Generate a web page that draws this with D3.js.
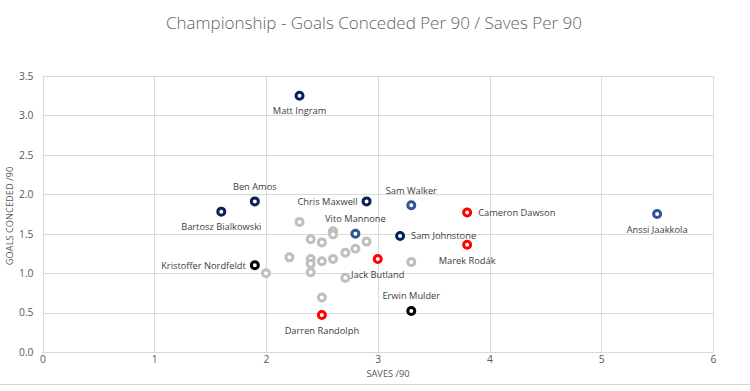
<!DOCTYPE html>
<html>
<head>
<meta charset="utf-8">
<script src="https://cdn.jsdelivr.net/npm/d3@7"></script>
<style>
  html, body { margin: 0; padding: 0; background: #fff; }
  svg { display: block; font-family: "Open Sans", "Noto Sans", sans-serif; }
</style>
</head>
<body>
<svg id="chart" width="750" height="391"></svg>
<script>
// ---- data ----
const namedPlayers = ["Matt Ingram", "Ben Amos", "Bartosz Bialkowski", "Kristoffer Nordfeldt", "Chris Maxwell",
  "Sam Walker", "Vito Mannone", "Cameron Dawson", "Sam Johnstone", "Marek Rodák", "Anssi Jaakkola",
  "Jack Butland", "Erwin Mulder", "Darren Randolph"];
const namedSaves    = [2.30, 1.90, 1.60, 1.90, 2.90, 3.30, 2.80, 3.80, 3.20, 3.80, 5.50, 3.00, 3.30, 2.50];
const namedConceded = [3.25, 1.91, 1.78, 1.10, 1.91, 1.86, 1.50, 1.77, 1.47, 1.36, 1.75, 1.18, 0.52, 0.47];
const namedGroup    = ["navy", "navy", "navy", "black", "navy", "blue", "blue", "red", "navy", "red", "blue", "red", "black", "red"];
const labelSide     = ["below", "above", "below", "left", "left", "above", "above", "right", "right", "below", "below", "below", "above", "below"];

const otherSaves    = [2.30, 2.40, 2.50, 2.60, 2.60, 2.90, 2.80, 2.71, 2.60, 2.50, 2.40, 2.40, 2.21, 2.00, 2.40, 2.71, 3.30, 2.50];
const otherConceded = [1.65, 1.43, 1.39, 1.53, 1.49, 1.40, 1.31, 1.26, 1.18, 1.15, 1.18, 1.12, 1.20, 1.00, 1.01, 0.94, 1.14, 0.69];

const xTicks = [0, 1, 2, 3, 4, 5, 6];
const yTicks = [0, 0.5, 1, 1.5, 2, 2.5, 3, 3.5];

const colors = { navy: "#0B2257", blue: "#2F5597", red: "#FF0000", black: "#000000", grey: "#BFBFBF" };

// ---- layout ----
const svg = d3.select("#chart");
const pLeft = 42.5, pRight = 713, pTop = 76, pBottom = 352;
const x = d3.scaleLinear().domain([0, 6]).range([pLeft, pRight]);
const y = d3.scaleLinear().domain([0, 3.5]).range([pBottom, pTop]);

// title
svg.append("text").attr("x", 374).attr("y", 29).attr("text-anchor", "middle")
  .attr("font-size", 17).attr("fill", "#636363").attr("font-weight", 300)
  .text("Championship - Goals Conceded Per 90 / Saves Per 90");

// gridlines
const grid = svg.append("g");
grid.selectAll("line.h").data(yTicks).join("line")
  .attr("x1", pLeft).attr("x2", pRight)
  .attr("y1", d => Math.round(y(d)) + 0.5).attr("y2", d => Math.round(y(d)) + 0.5)
  .attr("stroke", "#D9D9D9").attr("stroke-width", 1);
grid.selectAll("line.v").data(xTicks).join("line")
  .attr("y1", pTop).attr("y2", pBottom)
  .attr("x1", d => Math.round(x(d)) + 0.5).attr("x2", d => Math.round(x(d)) + 0.5)
  .attr("stroke", "#D9D9D9").attr("stroke-width", 1);

// axes (labels only, via d3 axes)
const xAxis = svg.append("g").attr("transform", `translate(0,${pBottom})`)
  .call(d3.axisBottom(x).tickValues(xTicks).tickFormat(d3.format("d")).tickSize(0).tickPadding(4));
const yAxis = svg.append("g").attr("transform", `translate(${pLeft},0)`)
  .call(d3.axisLeft(y).tickValues(yTicks).tickFormat(d3.format(".1f")).tickSize(0).tickPadding(9));
[xAxis, yAxis].forEach(a => {
  a.select(".domain").remove();
  a.selectAll("text").attr("font-size", 10.3).attr("fill", "#595959").attr("font-family", "Open Sans, sans-serif");
});

// axis titles
svg.append("text").attr("x", 388).attr("y", 377).attr("text-anchor", "middle")
  .attr("font-size", 9.3).attr("fill", "#595959").text("SAVES /90");
svg.append("text").attr("transform", "translate(13,216) rotate(-90)").attr("text-anchor", "middle")
  .attr("font-size", 9.3).attr("fill", "#595959").text("GOALS CONCEDED /90");

// bottom border
svg.append("line").attr("x1", 0).attr("x2", 750).attr("y1", 384.5).attr("y2", 384.5)
  .attr("stroke", "#D9D9D9");

// other keepers
const others = otherSaves.map((s, i) => ({ s, c: otherConceded[i] }));
svg.append("g").selectAll("circle").data(others).join("circle")
  .attr("cx", d => x(d.s)).attr("cy", d => y(d.c)).attr("r", 3.5)
  .attr("fill", "#fff").attr("stroke", colors.grey).attr("stroke-width", 3);

// named keepers
const named = namedPlayers.map((n, i) => ({ n, s: namedSaves[i], c: namedConceded[i], g: namedGroup[i], side: labelSide[i] }));
svg.append("g").selectAll("circle").data(named).join("circle")
  .attr("cx", d => x(d.s)).attr("cy", d => y(d.c)).attr("r", 3.5)
  .attr("fill", "#fff").attr("stroke", d => colors[d.g]).attr("stroke-width", 3);

svg.append("g").selectAll("text").data(named).join("text")
  .attr("font-size", 9.3).attr("fill", "#404040")
  .attr("text-anchor", d => d.side === "left" ? "end" : d.side === "right" ? "start" : "middle")
  .attr("x", d => x(d.s) + (d.side === "left" ? -9 : d.side === "right" ? 11 : 0))
  .attr("y", d => y(d.c) + (d.side === "below" ? 15.5 : d.side === "above" ? -15 : 0))
  .attr("dy", "0.35em")
  .text(d => d.n);
</script>
</body>
</html>
